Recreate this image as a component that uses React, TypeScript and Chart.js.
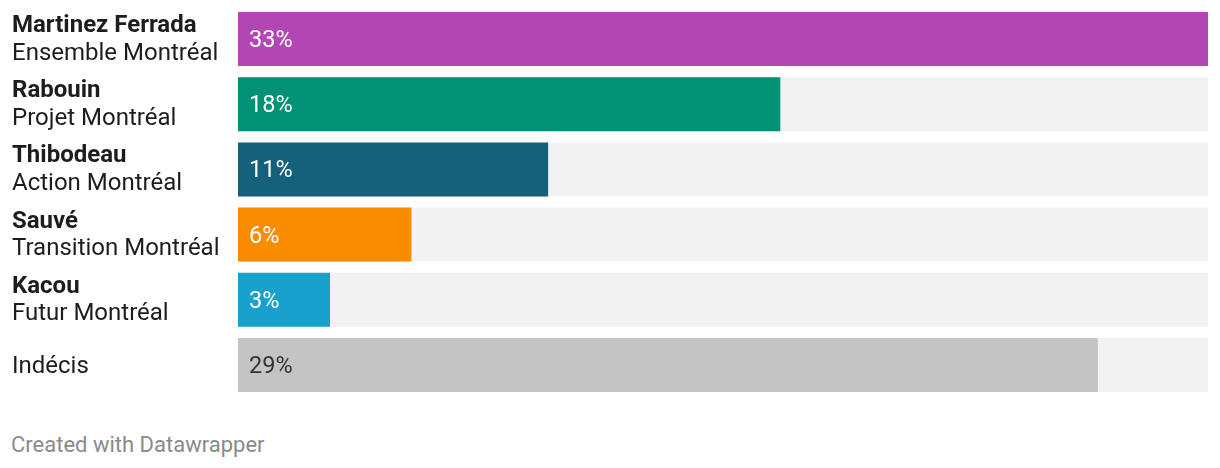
import React, { useEffect, useRef } from "react";
import { Chart, registerables } from "chart.js";

Chart.register(...registerables);

const candidates = ["Martinez Ferrada", "Rabouin", "Thibodeau", "Sauvé", "Kacou", ""];
const parties = ["Ensemble Montréal", "Projet Montréal", "Action Montréal", "Transition Montréal", "Futur Montréal", "Indécis"];
const values = [33, 18.45, 10.55, 5.9, 3.13, 29.25];
const valueLabels = ["33%", "18%", "11%", "6%", "3%", "29%"];
const colors = ["#b246b2", "#019174", "#15607a", "#fa8c00", "#18a1cd", "#c4c4c4"];
const labelColors = ["#ffffff", "#ffffff", "#ffffff", "#ffffff", "#ffffff", "#333333"];
const maxValue = 33;

const FONT = "Roboto, 'Noto Sans', sans-serif";

const labelPlugin = {
  id: "dwLabels",
  afterDatasetsDraw(chart: any) {
    const ctx = chart.ctx;
    const yScale = chart.scales.y;
    const xScale = chart.scales.x;
    ctx.save();
    ctx.textBaseline = "alphabetic";
    ctx.textAlign = "left";
    parties.forEach((party, i) => {
      const yc = yScale.getPixelForValue(i);
      ctx.fillStyle = "#1d1d1d";
      if (candidates[i]) {
        ctx.font = `bold 24px ${FONT}`;
        ctx.fillText(candidates[i], 12, yc - 7);
        ctx.font = `24px ${FONT}`;
        ctx.fillText(party, 12, yc + 20.5);
      } else {
        ctx.font = `24px ${FONT}`;
        ctx.fillText(party, 12, yc + 7.5);
      }
      ctx.font = `23.5px ${FONT}`;
      ctx.fillStyle = labelColors[i];
      ctx.fillText(valueLabels[i], xScale.getPixelForValue(0) + 11, yc + 8);
    });
    ctx.restore();
  },
};

export default function App() {
  const ref = useRef<HTMLCanvasElement>(null);
  useEffect(() => {
    if (!ref.current) return;
    const chart = new Chart(ref.current, {
      type: "bar",
      data: {
        labels: parties,
        datasets: [
          {
            data: values,
            backgroundColor: colors,
            grouped: false,
            order: 0,
            barPercentage: 1,
            categoryPercentage: 0.828,
          } as any,
          {
            data: parties.map(() => maxValue),
            backgroundColor: "#f2f2f2",
            grouped: false,
            order: 1,
            barPercentage: 1,
            categoryPercentage: 0.828,
          } as any,
        ],
      },
      options: {
        indexAxis: "y",
        animation: false,
        responsive: true,
        maintainAspectRatio: false,
        layout: { padding: { left: 238, right: 12, top: 6.4, bottom: 22.4 } },
        plugins: { legend: { display: false }, tooltip: { enabled: false } },
        scales: {
          x: { display: false, min: 0, max: maxValue },
          y: { display: false },
        },
        datasets: { bar: { borderWidth: 0 } },
      } as any,
      plugins: [labelPlugin],
    });
    return () => chart.destroy();
  }, []);
  return (
    <div style={{ position: "absolute", left: 0, top: 0, width: 1220, height: 468, background: "#fff" }}>
      <div style={{ position: "absolute", left: 0, top: 0, width: 1220, height: 420 }}>
        <canvas ref={ref} />
      </div>
      <div
        style={{
          position: "absolute",
          left: 11,
          top: 433.5,
          fontFamily: FONT,
          fontSize: 22,
          color: "#8a8a8a",
          lineHeight: "22px",
          whiteSpace: "nowrap",
        }}
      >
        Created with Datawrapper
      </div>
    </div>
  );
}
